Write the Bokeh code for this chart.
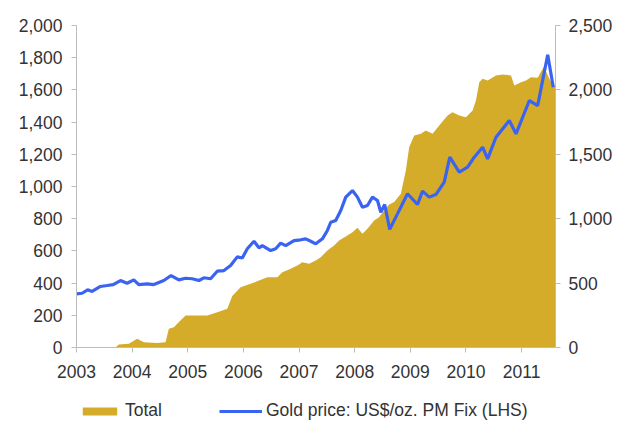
from bokeh.plotting import figure
from bokeh.layouts import column
from bokeh.models import Range1d, LinearAxis, FixedTicker, NumeralTickFormatter, Legend, LegendItem, ColumnDataSource
from bokeh.embed import file_html
from bokeh.resources import INLINE

# Gold price (LHS), US$/oz, by decimal year
gold_year = [2003.00, 2003.10, 2003.20, 2003.28, 2003.43, 2003.55, 2003.66, 2003.79, 2003.91, 2004.03,
             2004.12, 2004.27, 2004.39, 2004.57, 2004.70, 2004.84, 2004.96, 2005.08, 2005.20, 2005.29,
             2005.41, 2005.53, 2005.65, 2005.77, 2005.89, 2005.98, 2006.07, 2006.19, 2006.28, 2006.34,
             2006.49, 2006.58, 2006.67, 2006.76, 2006.91, 2007.03, 2007.12, 2007.21, 2007.30, 2007.42,
             2007.51, 2007.57, 2007.66, 2007.75, 2007.84, 2007.96, 2008.05, 2008.14, 2008.23, 2008.32,
             2008.41, 2008.47, 2008.54, 2008.63, 2008.77, 2008.95, 2009.13, 2009.22, 2009.34, 2009.46,
             2009.61, 2009.71, 2009.88, 2010.03, 2010.15, 2010.30, 2010.39, 2010.54, 2010.78, 2010.90,
             2011.02, 2011.14, 2011.29, 2011.47, 2011.57]
gold_price = [333, 337, 358, 348, 379, 385, 391, 416, 399, 420,
              391, 395, 391, 416, 447, 420, 430, 427, 416, 433,
              427, 474, 478, 509, 563, 556, 613, 660, 619, 633,
              602, 613, 648, 633, 664, 669, 675, 660, 644, 675,
              727, 778, 789, 851, 934, 975, 934, 871, 882, 934,
              913, 840, 888, 734, 830, 955, 888, 971, 934, 950,
              1027, 1182, 1089, 1120, 1182, 1244, 1172, 1306, 1410, 1327,
              1430, 1534, 1503, 1818, 1616]

# Total (RHS)
total_year = [2003.70, 2003.76, 2003.94, 2004.09, 2004.21, 2004.45, 2004.60, 2004.66, 2004.75, 2004.81,
              2004.96, 2005.35, 2005.53, 2005.71, 2005.80, 2005.95, 2006.13, 2006.28, 2006.43, 2006.61,
              2006.70, 2006.85, 2006.97, 2007.06, 2007.18, 2007.30, 2007.39, 2007.51, 2007.63, 2007.72,
              2007.84, 2007.96, 2008.05, 2008.14, 2008.23, 2008.35, 2008.44, 2008.53, 2008.62, 2008.71,
              2008.83, 2008.92, 2008.98, 2009.07, 2009.19, 2009.28, 2009.40, 2009.52, 2009.67, 2009.76,
              2009.88, 2010.00, 2010.12, 2010.18, 2010.24, 2010.30, 2010.39, 2010.54, 2010.66, 2010.81,
              2010.87, 2010.99, 2011.08, 2011.17, 2011.29, 2011.40, 2011.55, 2011.61]
total_value = [0, 23, 29, 67, 41, 34, 41, 145, 158, 184,
               248, 248, 274, 300, 400, 468, 494, 520, 546, 546,
               585, 611, 637, 662, 650, 675, 701, 753, 792, 831,
               862, 895, 929, 883, 922, 986, 1012, 1064, 1110, 1130,
               1193, 1374, 1555, 1646, 1659, 1685, 1659, 1724, 1801, 1827,
               1801, 1788, 1840, 1918, 2060, 2086, 2073, 2112, 2119, 2112,
               2034, 2060, 2073, 2099, 2094, 2180, 2040, 2030]

x_ticks = [2003, 2004, 2005, 2006, 2007, 2008, 2009, 2010, 2011]
left_ticks = [0, 200, 400, 600, 800, 1000, 1200, 1400, 1600, 1800, 2000]
right_ticks = [0, 500, 1000, 1500, 2000, 2500]
series_names = ["Total", "Gold price: US$/oz. PM Fix (LHS)"]

FONT = "Liberation Sans"
FSIZE = "17.5px"
AXIS_C = "#BDBDBD"
TXT_C = "#333333"
AREA_C = "#D4AC2A"
LINE_C = "#3A63F2"

p = figure(width=627, height=387, x_range=Range1d(2003, 2011.61), y_range=Range1d(0, 2000),
           output_backend="svg", toolbar_location=None,
           min_border_left=76, min_border_right=72, min_border_top=25, min_border_bottom=40)
p.extra_y_ranges = {"right": Range1d(0, 2500)}
p.outline_line_color = None
p.xgrid.visible = False
p.ygrid.visible = False

tsrc = ColumnDataSource(dict(x=total_year, y=total_value))
gsrc = ColumnDataSource(dict(x=gold_year, y=gold_price))

p.varea(x="x", y1=0, y2="y", source=tsrc, fill_color=AREA_C, y_range_name="right")
p.line(x="x", y="y", source=gsrc, line_color=LINE_C, line_width=3.2)

raxis = LinearAxis(y_range_name="right")
p.add_layout(raxis, "right")

def style(ax, ticks):
    ax.ticker = FixedTicker(ticks=ticks)
    ax.axis_line_color = AXIS_C
    ax.major_tick_line_color = AXIS_C
    ax.major_tick_in = 0
    ax.major_tick_out = 5
    ax.minor_tick_line_color = None
    ax.major_label_text_font = FONT
    ax.major_label_text_font_size = FSIZE
    ax.major_label_text_color = TXT_C

style(p.xaxis[0], x_ticks)
p.xaxis[0].major_label_standoff = 12
style(p.yaxis[0], left_ticks)
p.yaxis[0].formatter = NumeralTickFormatter(format="0,0")
p.yaxis[0].major_label_standoff = 9
style(raxis, right_ticks)
raxis.formatter = NumeralTickFormatter(format="0,0")
raxis.major_label_standoff = 8

# Legend strip below the chart (its frame is aligned with the chart's frame)
lg = figure(width=627, height=34, x_range=Range1d(0, 1), y_range=Range1d(0, 1),
            output_backend="svg", toolbar_location=None,
            min_border_left=0, min_border_right=0, min_border_top=0, min_border_bottom=0)
lg.axis.visible = False
lg.xgrid.visible = False
lg.ygrid.visible = False
lg.outline_line_color = None
d_area = lg.varea(x=[-10, -9], y1=[0, 0], y2=[1, 1], fill_color=AREA_C)
d_line = lg.line(x=[-10, -9], y=[0, 0], line_color=LINE_C, line_width=3.2)

legend = Legend(items=[LegendItem(label=series_names[0], renderers=[d_area]),
                       LegendItem(label=series_names[1], renderers=[d_line])],
                location=(2, 0), orientation="horizontal",
                glyph_width=43, glyph_height=10, label_standoff=4, spacing=57,
                padding=0, margin=0, border_line_color=None, background_fill_alpha=0,
                label_text_font=FONT, label_text_font_size=FSIZE, label_text_color=TXT_C)
lg.add_layout(legend)

layout = column(p, lg, spacing=0)
open("out.html", "w").write(file_html(layout, INLINE))
